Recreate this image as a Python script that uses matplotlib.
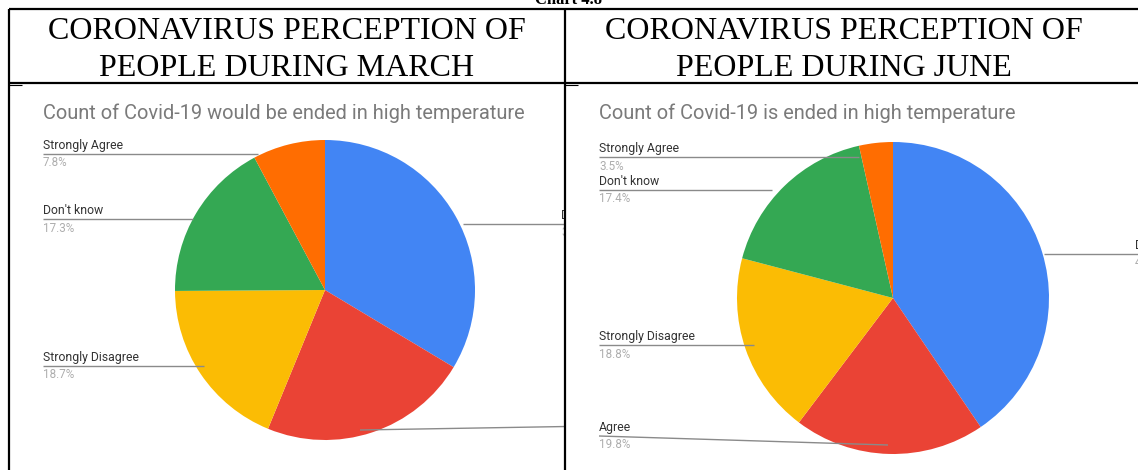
import matplotlib
matplotlib.use("Agg")
import matplotlib.pyplot as plt

W, H = 1138, 470

# --- data ---
labels = ["Disagree", "Agree", "Strongly Disagree", "Don't know", "Strongly Agree"]
march_values = [33.6, 22.6, 18.7, 17.3, 7.8]
june_values = [40.5, 19.8, 18.8, 17.4, 3.5]
colors = ["#4285F4", "#EA4335", "#FBBC04", "#34A853", "#FF6D01"]

header_march = ["CORONAVIRUS PERCEPTION OF", "PEOPLE DURING MARCH"]
header_june = ["CORONAVIRUS PERCEPTION OF", "PEOPLE DURING JUNE"]
title_march = "Count of Covid-19 would be ended in high temperature"
title_june = "Count of Covid-19 is ended in high temperature"

# --- layout (pixels from top-left) ---
# label: (text x, line y at label, pie-side x, pie-side y, side)
march_layout = [
    (561, 224, 463, 224, "right"),
    (575, 425, 360, 430, "right"),   # label falls outside the cell
    (43, 366, 204, 366, "left"),
    (43, 219, 193, 219, "left"),
    (43, 154, 258, 154, "left"),
]
june_layout = [
    (1135, 254, 1044, 254, "right"),
    (599, 436, 888, 445, "left"),
    (599, 345, 754, 345, "left"),
    (599, 190, 772, 190, "left"),
    (599, 157, 859, 157, "left"),
]


def fy(y):
    return H - y


fig = plt.figure(figsize=(W / 100, H / 100), dpi=100)
fig.patch.set_facecolor("white")


def draw_cell(x0, x1, values, layout, title, title_x, center, radius):
    ax = fig.add_axes([x0 / W, 0, (x1 - x0) / W, (H - 84) / H])
    ax.pie(values, colors=colors, startangle=90, counterclock=False,
           center=(center[0], fy(center[1])), radius=radius, frame=True,
           wedgeprops=dict(linewidth=0))
    ax.set_xlim(x0, x1)
    ax.set_ylim(0, H - 84)
    ax.set_aspect("auto")
    ax.axis("off")

    ax.text(title_x, fy(113), title, fontsize=14.4, color="#7a7a7a",
            family="Roboto", ha="left", va="center", clip_on=True)

    for name, v, (tx, ly, px, py, side) in zip(labels, values, layout):
        if side == "left":
            xs = [tx, px]
            ys = [fy(ly), fy(py)]
        else:
            xs = [px, tx + 80]
            ys = [fy(py), fy(ly)]
        ax.plot(xs, ys, color="#8a8a8a", lw=1.0, solid_capstyle="butt",
                clip_on=True)
        ax.text(tx, fy(ly) + 2, name, fontsize=8.8, color="#333333",
                family="Roboto", ha="left", va="bottom", clip_on=True)
        ax.text(tx, fy(ly) - 2.5, f"{v:.1f}%", fontsize=8.4, color="#adadad",
                family="Roboto", ha="left", va="top", clip_on=True)
    return ax


draw_cell(10, 565, march_values, march_layout, title_march, 43, (325, 290), 150)
draw_cell(567, 1138, june_values, june_layout, title_june, 599, (893, 298), 156)

# --- table frame and headers ---
bg = fig.add_axes([0, 0, 1, 1])
bg.set_xlim(0, W)
bg.set_ylim(H, 0)
bg.axis("off")
bg.set_zorder(5)
bg.patch.set_visible(False)

lw = 1.6
bg.plot([9, W], [9, 9], color="black", lw=lw, solid_capstyle="butt")
bg.plot([9, W], [83, 83], color="black", lw=lw, solid_capstyle="butt")
bg.plot([9, 9], [9, H], color="black", lw=lw, solid_capstyle="butt")
bg.plot([565, 565], [9, H], color="black", lw=lw, solid_capstyle="butt")
bg.plot([9, 22], [85, 85], color="black", lw=0.8, solid_capstyle="butt")
bg.plot([565, 578], [85, 85], color="black", lw=0.8, solid_capstyle="butt")

bg.text(569, 4, "Chart 4.8", fontsize=12, fontweight="bold",
        family="Liberation Serif", ha="center", va="baseline")

for cx, lines in [(287, header_march), (844, header_june)]:
    bg.text(cx, 39, lines[0], fontsize=23, family="Liberation Serif",
            ha="center", va="baseline")
    bg.text(cx, 76, lines[1], fontsize=23, family="Liberation Serif",
            ha="center", va="baseline")

fig.savefig("out.png", dpi=100)
